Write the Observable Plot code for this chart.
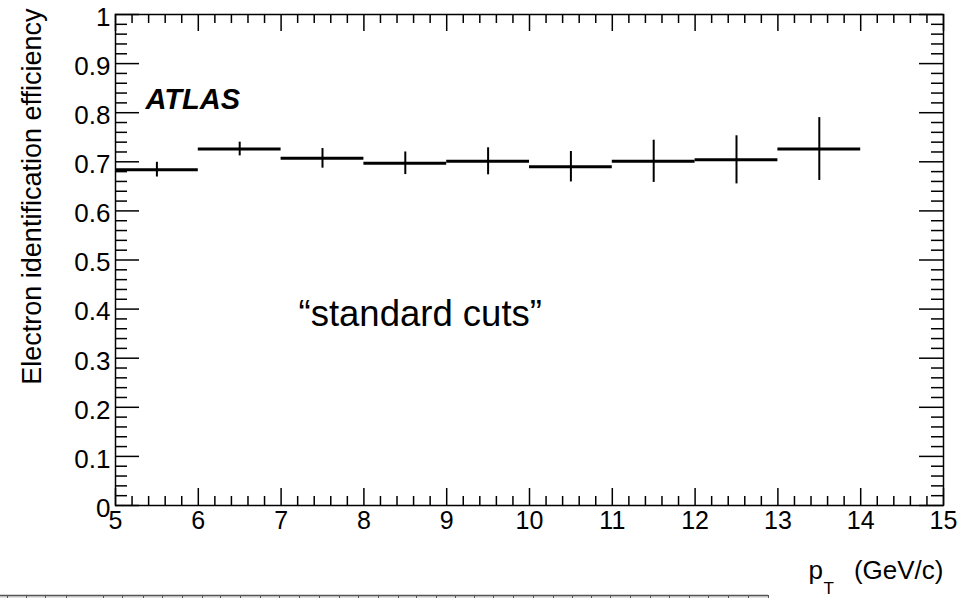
<!DOCTYPE html>
<html><head><meta charset="utf-8">
<script src="https://cdn.jsdelivr.net/npm/d3@7"></script>
<script src="https://cdn.jsdelivr.net/npm/@observablehq/plot@0.6"></script>
<style>
body{margin:0;background:#fff;font-family:"Liberation Sans",Arial,Helvetica,sans-serif}
#chart svg{display:block}
</style>
</head><body><div id="chart"></div>
<script>
// ---- data ----
const binLow  = [5, 6, 7, 8, 9, 10, 11, 12, 13];
const binHigh = [6, 7, 8, 9, 10, 11, 12, 13, 14];
const efficiency = [0.684, 0.726, 0.707, 0.697, 0.701, 0.690, 0.701, 0.704, 0.726];
const errors     = [0.015, 0.014, 0.020, 0.023, 0.0275, 0.031, 0.043, 0.049, 0.064];
const xMajorTicks = [5, 6, 7, 8, 9, 10, 11, 12, 13, 14, 15];
const yMajorTicks = [0, 0.1, 0.2, 0.3, 0.4, 0.5, 0.6, 0.7, 0.8, 0.9, 1];
const yTitle = "Electron identification efficiency";
const experiment = "ATLAS";
const annotation = "\u201Cstandard cuts\u201D";
const stripTicks = [7, 26, 45, 66, 103, 122, 143, 162, 182, 202, 220, 240, 260, 279, 299, 319, 339, 358, 378, 398,
  416, 436, 455, 474, 493, 513, 533, 553, 572, 591, 610, 630, 650, 669, 689, 708, 728, 748, 768];

const xMinorTicks = d3.range(5, 15.0001, 0.2).map(v => +v.toFixed(2)).filter(v => !xMajorTicks.includes(v));
const yMinorTicks = d3.range(0, 1.0001, 0.02).map(v => +v.toFixed(2)).filter(v => !yMajorTicks.some(t => Math.abs(t - v) < 1e-9));

const bins = binLow.map((lo, i) => ({lo, hi: binHigh[i], mid: (lo + binHigh[i]) / 2, eff: efficiency[i], err: errors[i]}));

const W = 976, H = 586, mL = 115, mR = 33, mT = 14, mB = 81;
const pw = W - mL - mR, ph = H - mT - mB;
const font = "'Liberation Sans', Arial, Helvetica, sans-serif";

const chart = Plot.plot({
  width: W, height: H,
  marginLeft: mL, marginRight: mR, marginTop: mT, marginBottom: mB,
  style: {fontFamily: font, color: "#000", background: "#fff", overflow: "visible"},
  x: {domain: [5, 15]},
  y: {domain: [0, 1]},
  marks: [
    // inward ticks on all four sides
    Plot.tickY(yMajorTicks, {y: d => d, insetRight: pw - 24, stroke: "#000", strokeWidth: 1.5}),
    Plot.tickY(yMinorTicks, {y: d => d, insetRight: pw - 12, stroke: "#000", strokeWidth: 1.5}),
    Plot.tickY(yMajorTicks, {y: d => d, insetLeft: pw - 24, stroke: "#000", strokeWidth: 1.5}),
    Plot.tickY(yMinorTicks, {y: d => d, insetLeft: pw - 12, stroke: "#000", strokeWidth: 1.5}),
    Plot.tickX(xMajorTicks, {x: d => d, insetTop: ph - 17, stroke: "#000", strokeWidth: 1.5}),
    Plot.tickX(xMinorTicks, {x: d => d, insetTop: ph - 9, stroke: "#000", strokeWidth: 1.5}),
    Plot.tickX(xMajorTicks, {x: d => d, insetBottom: ph - 17, stroke: "#000", strokeWidth: 1.5}),
    Plot.tickX(xMinorTicks, {x: d => d, insetBottom: ph - 9, stroke: "#000", strokeWidth: 1.5}),
    Plot.frame({stroke: "#000", strokeWidth: 1.5}),
    // histogram bins with error bars
    Plot.ruleY(bins, {y: "eff", x1: "lo", x2: "hi", stroke: "#000", strokeWidth: 3}),
    Plot.ruleX(bins, {x: "mid", y1: d => d.eff - d.err, y2: d => d.eff + d.err, stroke: "#000", strokeWidth: 2}),
    // axes labels
    Plot.axisY({ticks: yMajorTicks, tickSize: 0, tickPadding: 5, fontSize: 26, dy: 3, label: null,
      tickFormat: d => d3.format("~g")(d)}),
    Plot.axisX({ticks: xMajorTicks, tickSize: 0, tickPadding: 6, fontSize: 25, label: null,
      tickFormat: d => String(d)}),
    // titles & annotations
    Plot.text([yTitle], {frameAnchor: "top-left", rotate: -90, textAnchor: "end", lineAnchor: "middle",
      dx: -83, dy: -6, fontSize: 27, fill: "#000"}),
    Plot.text(["(GeV/c)"], {frameAnchor: "bottom-right", textAnchor: "end", lineAnchor: "bottom",
      dx: 0, dy: 73, fontSize: 26, fill: "#000"}),
    Plot.text(["p"], {frameAnchor: "bottom-right", textAnchor: "start", lineAnchor: "bottom",
      dx: -135, dy: 73, fontSize: 26, fill: "#000"}),
    Plot.text(["T"], {frameAnchor: "bottom-right", textAnchor: "start", lineAnchor: "bottom",
      dx: -120, dy: 88, fontSize: 17, fill: "#000"}),
    Plot.text([experiment], {frameAnchor: "top-left", textAnchor: "start", lineAnchor: "bottom",
      dx: 30, dy: 94, fontSize: 29, fontWeight: "bold", fontStyle: "italic", fill: "#000"}),
    Plot.text([annotation], {frameAnchor: "top-left", textAnchor: "start", lineAnchor: "bottom",
      dx: 183, dy: 311, fontSize: 36.5, fill: "#000"})
  ]
});

// decorative strip at the very bottom (edge of a following panel)
const strip = Plot.plot({
  width: W, height: 598 - H, margin: 0,
  style: {background: "#fff"},
  x: {domain: [0, W], range: [0, W], axis: null},
  y: {domain: [0, 598 - H], range: [0, 598 - H], axis: null},
  marks: [
    Plot.rect([0], {x1: 0, x2: 768, y1: 9, y2: 12, fill: "#e2e2e2"}),
    Plot.ruleX(stripTicks, {x: d => d, y1: 9, y2: 12, stroke: "#555", strokeWidth: 1}),
    Plot.ruleY([9], {x1: 0, x2: 768, stroke: "#555", strokeWidth: 1.5})
  ]
});

document.getElementById("chart").append(chart, strip);
</script>
</body></html>
